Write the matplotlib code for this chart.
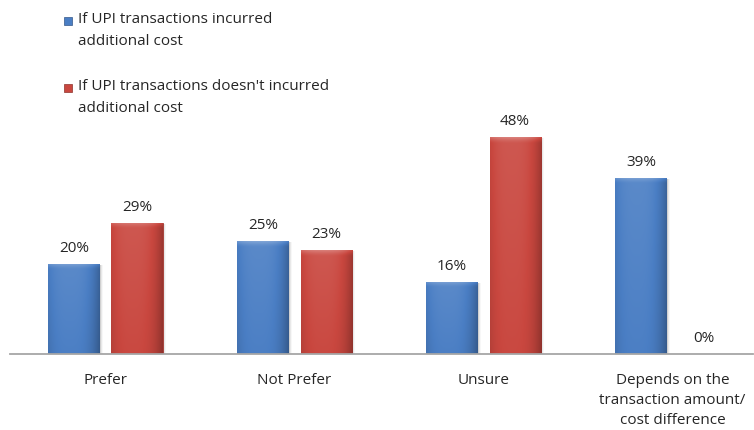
import numpy as np
import matplotlib
matplotlib.use("Agg")
import matplotlib.pyplot as plt
from matplotlib.patches import Rectangle
from matplotlib.colors import to_rgb

plt.rcParams['font.family'] = ['Open Sans', 'DejaVu Sans']

categories = ["Prefer", "Not Prefer", "Unsure",
              "Depends on the\ntransaction amount/\ncost difference"]
series_names = ["If UPI transactions incurred\nadditional cost",
                "If UPI transactions doesn't incurred\nadditional cost"]
with_cost = [20, 25, 16, 39]
without_cost = [29, 23, 48, 0]

BLUE = "#4A7EC4"
RED = "#C9473F"
TEXT = "#262626"
FS = 11

W, H = 754, 430
fig = plt.figure(figsize=(W / 100, H / 100), dpi=100)
ax_bottom = 354
ax_top = 120
ax = fig.add_axes([10 / W, 1 - ax_bottom / H, 743 / W, (ax_bottom - ax_top) / H])
ax.set_xlim(-0.505, 3.426)
ax.set_ylim(0, (ax_bottom - ax_top) / 4.52)


def shade(color, f):
    c = np.array(to_rgb(color))
    if f >= 0:
        return c + (1 - c) * f
    return c * (1 + f)


def gradient_bar(patch, color):
    x0, y0 = patch.get_x(), patch.get_y()
    w, h = patch.get_width(), patch.get_height()
    if h <= 0:
        return
    nx, ny = 60, 300
    xs = np.linspace(0, 1, nx)[None, :]
    ys = np.linspace(0, 1, ny)[:, None]
    # rounded look: slightly brighter left-centre, darker edges, brighter top
    f = 0.06 - 0.30 * (np.abs(xs - 0.42) / 0.58) ** 3 + 0.08 * ys - 0.05
    data_per_px = ax.get_ylim()[1] / (ax_bottom - ax_top)
    h_px = h / data_per_px
    # bevel along the top edge, fading down over a few pixels
    dist_top = (1 - ys) * h_px
    bevel = np.clip(1 - dist_top / 6.0, 0, 1) ** 1.5 * 0.22
    f = f + bevel
    base = np.array(to_rgb(color))
    fpos = np.clip(f, 0, None)[..., None]
    fneg = np.clip(f, None, 0)[..., None]
    img = base + (1 - base) * fpos + base * fneg
    img = np.clip(img, 0, 1)
    im = ax.imshow(img, extent=[x0, x0 + w, y0, y0 + h], origin="lower",
                   aspect="auto", interpolation="bilinear", zorder=3)
    im.set_clip_path(patch)


x = np.arange(len(categories))
bw = 0.27
off = 0.167
bars_a = ax.bar(x - off, with_cost, bw, color=BLUE, zorder=2,
                edgecolor=shade(BLUE, -0.2), linewidth=0.6)
bars_b = ax.bar(x + off, without_cost, bw, color=RED, zorder=2,
                edgecolor=shade(RED, -0.2), linewidth=0.6)

# soft shadow to the right of each bar
for bars in (bars_a, bars_b):
    for b in bars:
        if b.get_height() > 0:
            for k, a in enumerate([0.10, 0.06, 0.03]):
                dx = (k + 1) * 1.2 / 189
                ax.add_patch(Rectangle((b.get_x() + dx, 0), b.get_width(),
                                       b.get_height() - 0.3, color="#000000",
                                       alpha=a, zorder=1, linewidth=0))

for b in bars_a:
    gradient_bar(b, BLUE)
for b in bars_b:
    gradient_bar(b, RED)

for bars, vals in ((bars_a, with_cost), (bars_b, without_cost)):
    for b, v in zip(bars, vals):
        ax.annotate(f"{v}%", (b.get_x() + b.get_width() / 2, v),
                    xytext=(0, 11), textcoords="offset points",
                    ha="center", va="center", fontsize=FS, color=TEXT)

for s in ["top", "right", "left"]:
    ax.spines[s].set_visible(False)
ax.spines["bottom"].set_color("#A6A6A6")
ax.spines["bottom"].set_linewidth(1.3)
ax.spines["bottom"].set_zorder(5)
ax.set_yticks([])
ax.set_xticks(x)
ax.set_xticklabels(categories, fontsize=FS, color=TEXT, linespacing=1.45)
ax.tick_params(axis="x", length=0, pad=14)

# legend
legend_rows = [(21, BLUE), (88, RED)]
for (ypx, col), name in zip(legend_rows, series_names):
    sq = 8
    fig.patches.append(Rectangle((64 / W, 1 - (ypx + sq / 2) / H), sq / W, sq / H,
                                 transform=fig.transFigure, facecolor=col,
                                 edgecolor=shade(col, -0.3), linewidth=0.5))
    fig.text(78 / W, 1 - (ypx - 9) / H, name, fontsize=FS, color=TEXT,
             ha="left", va="top", linespacing=1.6)

fig.savefig("out.png", dpi=100)
